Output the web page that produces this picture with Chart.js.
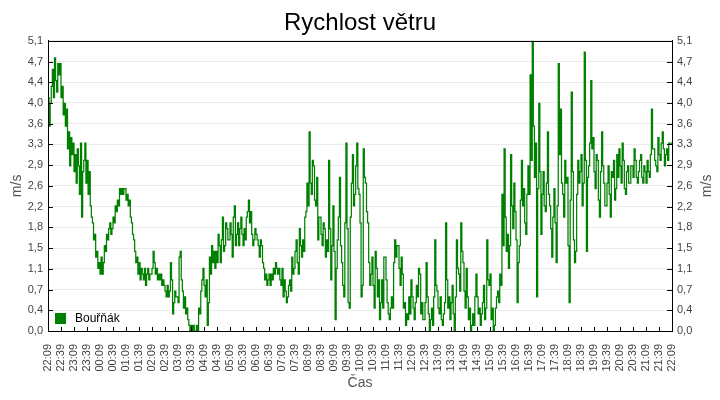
<!DOCTYPE html>
<html><head><meta charset="utf-8">
<script src="https://cdn.jsdelivr.net/npm/chart.js@4.4.0/dist/chart.umd.min.js"></script>
<style>html,body{margin:0;padding:0;background:#fff}canvas{display:block}</style>
</head><body>
<div style="width:720px;height:400px"><canvas id="c" width="720" height="400"></canvas></div>
<script>
const chartTitle = 'Rychlost větru';
const seriesName = 'Bouřňák';
const xAxisTitle = 'Čas';
const yAxisTitle = 'm/s';
const stepMinutes = 2.5;
const xTickLabels = ['22:09','22:39','23:09','23:39','00:09','00:39','01:09','01:39','02:09','02:39','03:09','03:39','04:09','04:39','05:09','05:39','06:09','06:39','07:09','07:39','08:09','08:39','09:09','09:39','10:09','10:39','11:09','11:39','12:09','12:39','13:09','13:39','14:09','14:39','15:09','15:39','16:09','16:39','17:09','17:39','18:09','18:39','19:09','19:39','20:09','20:39','21:09','21:39','22:09'];
const yTickLabels = ['0,0','0,4','0,7','1,1','1,5','1,8','2,2','2,6','2,9','3,3','3,6','4,0','4,4','4,7','5,1'];
const yMax = 5.1;
const windSpeed = [
3.9,4.1,3.6,4.0,4.3,4.6,4.1,4.8,4.4,4.2,4.7,4.5,
4.7,4.1,4.3,3.8,4.0,3.6,3.9,3.2,3.5,2.9,3.4,3.1,
3.3,2.8,3.1,2.6,3.2,2.9,2.4,3.3,2.0,2.8,3.0,3.3,
2.6,3.0,2.4,2.8,2.2,2.0,1.9,1.6,1.7,1.3,1.4,1.1,
1.2,1.0,1.3,1.0,1.2,1.5,1.4,1.7,1.6,1.8,1.9,1.7,
1.8,2.0,1.9,2.2,2.1,2.3,2.2,2.5,2.4,2.5,2.4,2.5,
2.5,2.3,2.4,2.2,2.3,2.0,1.9,1.7,1.6,1.4,1.2,1.3,
1.0,1.2,0.9,1.1,1.0,0.9,1.1,0.8,1.0,1.1,0.9,1.0,
1.0,1.1,1.4,1.2,1.0,1.1,0.9,1.0,0.9,1.0,0.8,0.9,
0.8,0.7,0.6,0.8,0.6,0.7,1.2,0.9,0.3,0.5,0.7,0.6,
0.6,0.5,1.3,1.4,0.9,0.7,0.4,0.6,0.3,0.4,0.2,0.1,
0.0,0.1,0.0,0.1,0.0,0.0,0.1,0.0,0.4,0.3,0.7,0.9,
1.1,0.8,0.6,0.9,0.1,0.5,1.3,1.0,1.5,1.2,1.4,1.1,
1.4,1.2,1.7,1.5,1.2,1.6,2.0,1.4,1.5,1.9,1.8,1.6,
1.6,1.9,1.7,1.3,2.0,2.2,1.5,1.7,1.9,1.5,1.8,2.0,
1.7,1.5,1.8,1.6,2.0,2.1,2.3,1.9,2.1,1.7,1.5,1.6,
1.8,1.7,1.6,1.5,1.3,1.6,1.5,1.2,1.1,0.9,1.0,0.8,
0.9,1.0,0.8,1.0,0.9,1.1,1.0,1.2,1.1,1.0,1.1,0.9,
0.8,1.1,0.6,0.9,0.7,0.5,0.6,0.8,0.9,0.7,1.3,1.0,
1.1,1.4,1.6,1.2,1.0,1.8,1.5,1.3,1.6,1.4,2.0,2.1,
2.6,2.2,3.5,2.6,2.4,3.0,2.9,2.3,2.2,2.7,1.6,2.0,
2.0,1.7,1.5,1.9,1.8,1.3,1.6,1.4,3.0,1.8,0.9,1.5,
2.2,1.4,0.2,1.1,1.6,2.0,2.7,1.5,1.2,0.8,0.6,1.9,
3.3,1.8,0.5,0.4,2.0,2.6,3.1,2.2,2.4,2.9,3.3,2.5,
2.4,1.9,0.6,0.8,3.2,2.7,2.6,2.1,1.9,1.2,0.8,1.0,
1.3,0.8,0.4,1.4,1.1,0.6,0.9,0.2,0.5,0.9,0.4,1.3,
1.3,0.9,0.5,0.3,0.2,0.4,0.6,0.4,1.2,1.6,1.3,1.5,
1.5,1.1,0.8,1.3,1.0,0.4,0.5,0.1,0.3,0.2,0.6,0.3,
0.9,0.6,0.4,0.2,0.5,0.8,0.6,1.1,1.0,0.3,0.5,0.2,
0.2,0.5,1.2,0.6,0.3,0.0,0.2,0.4,0.1,0.6,1.6,0.8,
0.7,0.4,0.3,0.6,0.2,0.1,0.3,0.5,1.9,0.9,0.4,0.6,
0.2,0.5,0.8,0.3,0.0,0.6,1.6,1.1,1.0,0.7,1.9,1.4,
1.2,0.7,0.4,1.1,0.6,0.2,0.4,0.0,0.1,0.3,0.1,0.6,
1.0,0.6,0.3,0.4,0.1,0.3,0.5,0.8,0.2,0.4,1.6,0.9,
0.8,1.0,0.2,0.4,0.0,0.1,0.4,0.6,0.7,0.5,1.0,0.8,
2.4,1.5,3.2,2.0,1.4,1.7,1.1,1.5,3.1,2.2,1.8,2.6,
2.1,1.6,0.5,1.2,1.5,2.3,3.0,2.2,2.5,1.9,1.7,2.4,
2.9,2.4,4.5,3.0,5.1,3.6,2.7,3.3,0.6,2.5,4.0,2.8,
1.7,2.4,2.8,2.2,2.1,2.6,3.5,2.4,2.2,1.8,1.3,2.0,
2.5,1.9,1.2,2.2,4.7,3.1,3.9,2.6,2.4,2.0,3.0,2.6,
2.7,1.5,0.5,2.3,4.2,2.8,1.6,1.2,1.4,2.4,3.0,2.6,
2.8,3.1,2.2,2.6,4.9,3.0,1.4,2.7,2.9,3.3,4.4,3.2,
3.4,2.8,2.5,3.1,3.0,2.3,2.0,2.8,3.5,2.9,2.6,2.2,
2.2,2.6,2.9,2.4,2.0,2.8,2.7,3.0,2.3,2.5,3.1,2.7,
3.2,2.9,2.6,3.3,3.0,2.5,2.4,2.8,2.9,2.6,2.6,2.9,
2.9,2.7,3.2,3.0,2.7,2.6,2.8,3.0,3.1,2.7,2.6,2.9,
2.8,2.6,3.0,2.8,2.7,3.1,3.9,3.2,3.2,3.0,2.9,2.8,
3.4,3.1,3.0,3.3,3.5,3.2,2.9,3.1,3.2,3.0,3.3,3.3,
3.3
];

const FONT = "'Liberation Sans', Arial, sans-serif";
const lineColor = '#008000';
const points = windSpeed.map((v, i) => ({ x: i * stepMinutes, y: v }));
const xMax = (xTickLabels.length - 1) * 30;

const framePlugin = {
  id: 'frame',
  afterDatasetsDraw(chart) {
    const { ctx, chartArea: a, scales } = chart;
    ctx.save();
    ctx.strokeStyle = '#000';
    ctx.lineWidth = 1;
    ctx.beginPath();
    scales.y.ticks.forEach(t => {
      const py = Math.round(scales.y.getPixelForValue(t.value)) + 0.5;
      ctx.moveTo(a.left, py); ctx.lineTo(a.left + 5, py);
      ctx.moveTo(a.right, py); ctx.lineTo(a.right - 5, py);
    });
    scales.x.ticks.forEach(t => {
      const px = Math.round(scales.x.getPixelForValue(t.value)) + 0.5;
      ctx.moveTo(px, a.bottom); ctx.lineTo(px, a.bottom - 4);
    });
    ctx.stroke();
    ctx.strokeRect(Math.round(a.left) + 0.5, Math.round(a.top) + 0.5, Math.round(a.right - a.left), Math.round(a.bottom - a.top));
    const ds = chart.data.datasets[0];
    ctx.fillStyle = ds.borderColor;
    ctx.fillRect(a.left + 7, a.bottom - 18, 11, 11);
    ctx.fillStyle = '#000';
    ctx.font = '12px ' + FONT;
    ctx.textBaseline = 'middle';
    ctx.textAlign = 'left';
    ctx.fillText(ds.label, a.left + 27, a.bottom - 12);
    ctx.fillStyle = '#555';
    ctx.font = '14px ' + FONT;
    ctx.textAlign = 'center';
    ctx.translate(scales.y2.right - 13, (a.top + a.bottom) / 2);
    ctx.rotate(-Math.PI / 2);
    ctx.fillText(yAxisTitle, 0, 0);
    ctx.restore();
  }
};

new Chart(document.getElementById('c'), {
  type: 'line',
  data: {
    datasets: [{
      label: seriesName,
      data: points,
      borderColor: lineColor,
      backgroundColor: lineColor,
      borderWidth: 1.25,
      pointRadius: 0,
      stepped: 'after',
      fill: false,
      yAxisID: 'y'
    }]
  },
  options: {
    responsive: false,
    devicePixelRatio: 1,
    animation: false,
    layout: { padding: 0 },
    plugins: {
      legend: { display: false },
      tooltip: { enabled: false },
      title: {
        display: true, text: chartTitle, color: '#000',
        font: { family: FONT, size: 24, weight: 'normal' },
        padding: { top: 9, bottom: 3 }
      }
    },
    scales: {
      x: {
        type: 'linear', min: 0, max: xMax,
        afterBuildTicks: s => { s.ticks = xTickLabels.map((_, i) => ({ value: i * 30 })); },
        afterFit: s => { s.height = 69; },
        grid: { display: false },
        border: { display: true, color: '#000' },
        ticks: {
          autoSkip: false, minRotation: 90, maxRotation: 90, padding: 5,
          color: '#444', font: { family: FONT, size: 11 },
          callback: (v, i) => xTickLabels[i]
        },
        title: { display: true, text: xAxisTitle, color: '#555', font: { family: FONT, size: 14 }, padding: { top: 0, bottom: 8 } }
      },
      y: {
        position: 'left', min: 0, max: yMax,
        afterBuildTicks: s => { s.ticks = yTickLabels.map((_, i) => ({ value: i * yMax / (yTickLabels.length - 1) })); },
        afterFit: s => { s.width = 48; },
        grid: { color: '#ebebeb', drawTicks: false },
        border: { display: true, color: '#000' },
        ticks: { padding: 5, color: '#444', font: { family: FONT, size: 11 }, callback: (v, i) => yTickLabels[i] },
        title: { display: true, text: yAxisTitle, color: '#555', font: { family: FONT, size: 14 }, padding: { top: 9, bottom: 0 } }
      },
      y2: {
        position: 'right', min: 0, max: yMax,
        afterBuildTicks: s => { s.ticks = yTickLabels.map((_, i) => ({ value: i * yMax / (yTickLabels.length - 1) })); },
        afterFit: s => { s.width = 48; },
        grid: { drawOnChartArea: false, drawTicks: false },
        border: { display: true, color: '#000' },
        ticks: { padding: 5, color: '#444', font: { family: FONT, size: 11 }, callback: (v, i) => yTickLabels[i] },
        title: { display: false }
      }
    }
  },
  plugins: [framePlugin]
});
</script>
</body></html>
